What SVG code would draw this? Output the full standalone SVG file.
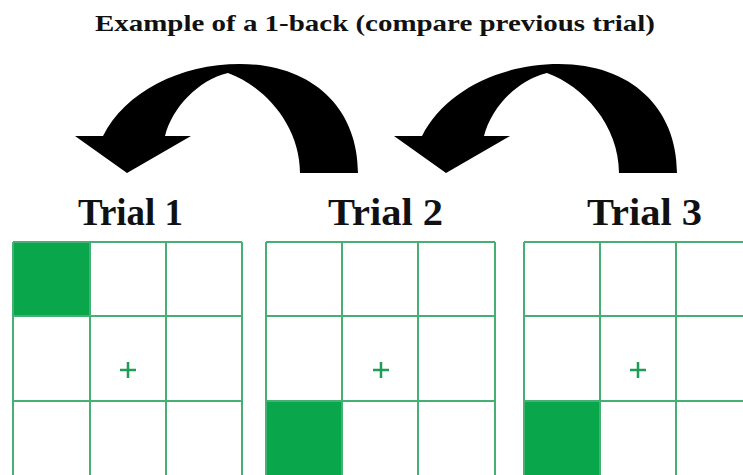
<svg xmlns="http://www.w3.org/2000/svg" width="743" height="475" viewBox="0 0 743 475">
<style>
.title{font-family:"Liberation Serif","DejaVu Serif",serif;font-weight:bold;fill:#111}
.gl{stroke:#45b074;stroke-width:2;fill:none}
.on{fill:#0aa64c}
.plus{stroke:#1f9c55;stroke-width:2.5}
.arrow{fill:#000}
</style>
<rect width="743" height="475" fill="#fff"/>
<text class="title" x="95" y="31" font-size="24" textLength="560" lengthAdjust="spacingAndGlyphs">Example of a 1-back (compare previous trial)</text>

<g id="connectors">
<path id="arrow1" class="arrow" d="M358,173 C358,108 312,64 240,64 C180,64 125,92 103,136 L75,136 L127,173 L191,136 L165,136 C172,108 198,80 228,73 C264,86 300,125 300,173 Z"/>
<path id="arrow2" class="arrow" transform="translate(319,0)" d="M358,173 C358,108 312,64 240,64 C180,64 125,92 103,136 L75,136 L127,173 L191,136 L165,136 C172,108 198,80 228,73 C264,86 300,125 300,173 Z"/>
</g>

<g id="trial1">
<text class="title" x="78" y="225" font-size="38" textLength="105" lengthAdjust="spacingAndGlyphs">Trial 1</text>
<rect class="on" x="13" y="242" width="77" height="74"/>
<path class="gl" d="M13,242H242M13,316H242M13,401H242M13,242V486M90,242V486M166,242V486M242,242V486"/>
<path class="plus" d="M120,370H136M128,362V378"/>
</g>

<g id="trial2">
<text class="title" x="328" y="225" font-size="38" textLength="115" lengthAdjust="spacingAndGlyphs">Trial 2</text>
<rect class="on" x="266" y="401" width="76" height="85"/>
<path class="gl" d="M266,242H495M266,316H495M266,401H495M266,242V486M342,242V486M418,242V486M495,242V486"/>
<path class="plus" d="M373,370H389M381,362V378"/>
</g>

<g id="trial3">
<text class="title" x="587" y="225" font-size="38" textLength="115" lengthAdjust="spacingAndGlyphs">Trial 3</text>
<rect class="on" x="524" y="401" width="76" height="85"/>
<path class="gl" d="M524,242H752M524,316H752M524,401H752M524,242V486M600,242V486M676,242V486M752,242V486"/>
<path class="plus" d="M630,370H646M638,362V378"/>
</g>
</svg>
